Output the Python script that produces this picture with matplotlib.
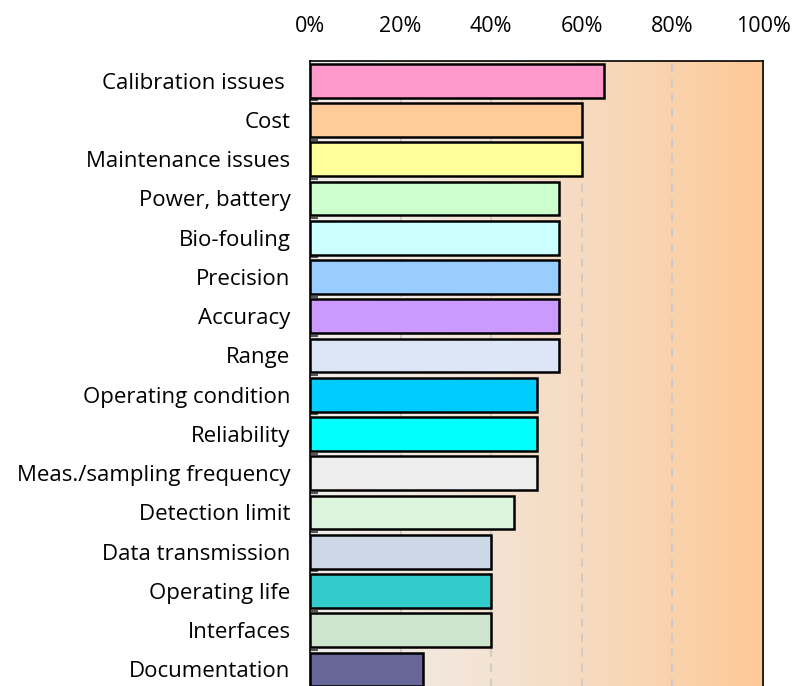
import numpy as np
import matplotlib
matplotlib.use("Agg")
import matplotlib.pyplot as plt
from matplotlib.colors import to_rgb

categories = ["Calibration issues ", "Cost", "Maintenance issues", "Power, battery",
              "Bio-fouling", "Precision", "Accuracy", "Range", "Operating condition",
              "Reliability", "Meas./sampling frequency", "Detection limit",
              "Data transmission", "Operating life", "Interfaces", "Documentation"]
values = [65, 60, 60, 55, 55, 55, 55, 55, 50, 50, 50, 45, 40, 40, 40, 25]
bar_colors = ["#FF99CC", "#FFCC99", "#FFFF99", "#CCFFCC", "#CCFFFF", "#99CCFF",
              "#CC99FF", "#DCE6F6", "#00CCFF", "#00FFFF", "#EDEDED", "#DDF5DD",
              "#CCD8E6", "#33CCCC", "#CCE5CC", "#666699"]
tick_values = [0, 20, 40, 60, 80, 100]

plt.rcParams['font.family'] = ['Open Sans', 'DejaVu Sans']

fig = plt.figure(figsize=(7.99, 6.86), dpi=100)
ax = fig.add_axes([0.388, -0.0045, 0.567, 0.9155])

n = len(categories)
# background gradient, light grey on the left to peach on the right
left_c = np.array(to_rgb("#F0EEEC"))
right_c = np.array(to_rgb("#FDC997"))
t = np.linspace(0, 1, 256) ** 1.3
grad = left_c[None, :] * (1 - t[:, None]) + right_c[None, :] * t[:, None]
ax.imshow(grad[None, :, :], extent=[0, 100, n - 0.5, -0.5], aspect='auto', zorder=0)

for xv in tick_values[1:-1]:
    ax.axvline(xv, color='#C8C8C8', lw=1.2, ls=(0, (5, 4)), zorder=1)

y = np.arange(n)
ax.barh(y, values, height=0.86, color=bar_colors, edgecolor='black', linewidth=1.8, zorder=2)

ax.set_xlim(0, 100)
ax.set_ylim(n - 0.5, -0.5)
ax.xaxis.tick_top()
ax.set_xticks(tick_values)
ax.set_xticklabels([f"{v}%" for v in tick_values], fontsize=15.5)
ax.set_yticks(y)
ax.set_yticklabels(categories, fontsize=16)
ax.tick_params(axis='y', length=0, pad=14)
ax.tick_params(axis='x', length=0, pad=17)
ax.set_yticks(np.arange(n) + 0.5, minor=True)
ax.tick_params(axis='y', which='minor', direction='in', length=6, color='#555555', width=1.5)

for side in ['left', 'top', 'right', 'bottom']:
    ax.spines[side].set_color('black')
    ax.spines[side].set_linewidth(1.2)

fig.savefig("out.png", dpi=100)
